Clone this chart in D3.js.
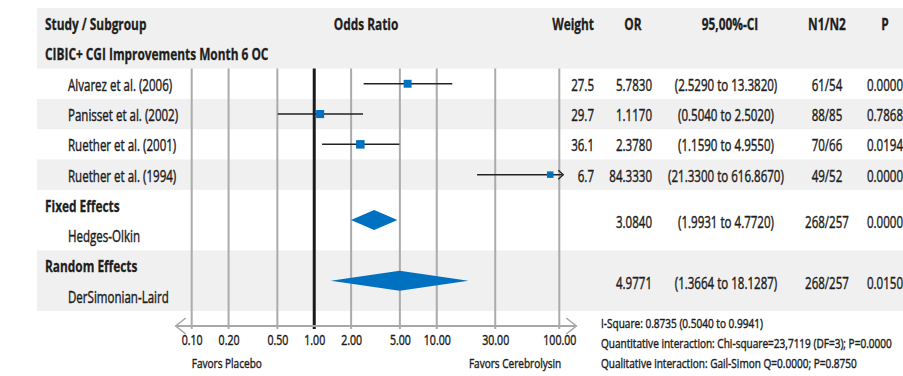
<!DOCTYPE html>
<html>
<head>
<meta charset="utf-8">
<script src="https://cdn.jsdelivr.net/npm/d3@7"></script>
<style>
  html, body { margin: 0; padding: 0; background: #fff; }
  svg { display: block; }
  text { font-family: "Open Sans", "Noto Sans", sans-serif; fill: #1e1e1e; stroke: #1e1e1e; stroke-width: 0.45px; }
  .b { font-weight: bold; stroke-width: 0.3px; }
</style>
</head>
<body>
<svg id="chart" width="903" height="376"></svg>
<script>
// Individual studies
const studyNames = ["Alvarez et al. (2006)", "Panisset et al. (2002)", "Ruether et al. (2001)", "Ruether et al. (1994)"];
const studyWeights = [27.5, 29.7, 36.1, 6.7];
const studyOR = [5.7830, 1.1170, 2.3780, 84.3330];
const studyLo = [2.5290, 0.5040, 1.1590, 21.3300];
const studyHi = [13.3820, 2.5020, 4.9550, 616.8670];
const studyN = ["61/54", "88/85", "70/66", "49/52"];
const studyP = ["0.0000", "0.7868", "0.0194", "0.0000"];

// Pooled estimates
const poolHeadings = ["Fixed Effects", "Random Effects"];
const poolMethods = ["Hedges-Olkin", "DerSimonian-Laird"];
const poolOR = [3.0840, 4.9771];
const poolLo = [1.9931, 1.3664];
const poolHi = [4.7720, 18.1287];
const poolN = ["268/257", "268/257"];
const poolP = ["0.0000", "0.0150"];

// Axis
const tickValues = [0.1, 0.2, 0.5, 1, 2, 5, 10, 30, 100];
const tickLabels = ["0.10", "0.20", "0.50", "1.00", "2.00", "5.00", "10.00", "30.00", "100.00"];

const headers = ["Study / Subgroup", "Odds Ratio", "Weight", "OR", "95,00%-CI", "N1/N2", "P"];
const subgroupTitle = "CIBIC+ CGI Improvements Month 6 OC";
const favorsLeft = "Favors Placebo";
const favorsRight = "Favors Cerebrolysin";
const footnotes = [
  "I-Square: 0.8735 (0.5040 to 0.9941)",
  "Quantitative interaction: Chi-square=23,7119 (DF=3); P=0.0000",
  "Qualitative interaction: Gail-Simon Q=0.0000; P=0.8750"
];

const fmtW = d3.format(".1f");
const fmt4 = d3.format(".4f");

const svg = d3.select("#chart");

// Row positions: 10 equal rows
const row = d3.scaleLinear().domain([0, 10]).range([8, 311]);
const rowMid = i => (row(i) + row(i + 1)) / 2;
const DY = "0.42em";

// Log scale for odds ratio
const x = d3.scaleLog().domain([0.1, 100]).range([191.7, 559.3]);
const axisY = 326;

// Column anchors
const col = { name: 68, head: 45, weight: 594, or: 652, orHead: 633, ci: 726, n: 827, p: 885 };
const bandLeft = 37, bandRight = 903;
const bandFill = "#f0f0f0";

// Type sizes and horizontal condensing factors
const tf = 16.5, sq = 0.70, sqBold = 0.72;
const tickF = 14.5, tickSq = 0.73;
const noteF = 13.5, noteSq = 0.745;

// Background bands
const bands = [[0, 2], [3, 4], [5, 6], [8, 10]];
svg.append("g").selectAll("rect").data(bands).join("rect")
  .attr("x", bandLeft).attr("width", bandRight - bandLeft)
  .attr("y", d => row(d[0])).attr("height", d => row(d[1]) - row(d[0]))
  .attr("fill", bandFill);

// Grid lines
const grid = svg.append("g");
grid.selectAll("line").data(tickValues.filter(v => v !== 1)).join("line")
  .attr("x1", d => x(d)).attr("x2", d => x(d))
  .attr("y1", row(2)).attr("y2", axisY + 3)
  .attr("stroke", "#ababab").attr("stroke-width", 2);
// Line of no effect
grid.append("line")
  .attr("x1", x(1)).attr("x2", x(1))
  .attr("y1", row(2)).attr("y2", axisY + 3)
  .attr("stroke", "#1a1a1a").attr("stroke-width", 3);

// Axis line with open arrowheads
const axisG = svg.append("g");
const axLeft = x.range()[0] - 16, axRight = x.range()[1] + 17;
axisG.append("line").attr("x1", axLeft).attr("x2", axRight)
  .attr("y1", axisY).attr("y2", axisY)
  .attr("stroke", "#a8a8a8").attr("stroke-width", 2);
axisG.append("path")
  .attr("d", `M${axLeft + 10},${axisY - 8}L${axLeft},${axisY}L${axLeft + 10},${axisY + 8}`)
  .attr("fill", "none").attr("stroke", "#a8a8a8").attr("stroke-width", 1.6);
axisG.append("path")
  .attr("d", `M${axRight - 10},${axisY - 8}L${axRight},${axisY}L${axRight - 10},${axisY + 8}`)
  .attr("fill", "none").attr("stroke", "#a8a8a8").attr("stroke-width", 1.6);

// Tick labels through d3 axis
const axis = d3.axisBottom(x).tickValues(tickValues)
  .tickFormat((d, i) => tickLabels[i]).tickSize(0).tickPadding(0);
const tickG = svg.append("g").attr("transform", `translate(0,${axisY + 14})`).call(axis);
tickG.select(".domain").remove();
tickG.attr("font-family", null).attr("font-size", null);
tickG.selectAll("text")
  .attr("dy", "0.35em").attr("y", 0)
  .attr("font-size", tickF).attr("fill", "#1e1e1e").attr("data-k", tickSq);

svg.append("text").attr("x", x(0.1)).attr("y", 363).attr("dy", "0.35em")
  .attr("font-size", noteF).attr("data-k", noteSq).text(favorsLeft);
svg.append("text").attr("x", x(100) + 2).attr("y", 363).attr("dy", "0.35em")
  .attr("text-anchor", "end").attr("font-size", noteF).attr("data-k", noteSq).text(favorsRight);

// Header
const hdr = svg.append("g").attr("font-size", tf);
const hy = rowMid(0);
const hText = (x0, y0, anchor, t) => hdr.append("text").attr("class", "b")
  .attr("x", x0).attr("y", y0).attr("dy", DY).attr("text-anchor", anchor).text(t);
hText(col.head, hy, "start", headers[0]);
hText(366, hy, "middle", headers[1]);
hText(col.weight, hy, "end", headers[2]);
hText(col.orHead, hy, "middle", headers[3]);
hText(730, hy, "middle", headers[4]);
hText(col.n, hy, "middle", headers[5]);
hText(col.p, hy, "middle", headers[6]);
hText(col.head, rowMid(1), "start", subgroupTitle);

// Study rows
const studies = studyNames.map((name, i) => ({
  name, w: studyWeights[i], or: studyOR[i], lo: studyLo[i], hi: studyHi[i],
  n: studyN[i], p: studyP[i], r: i + 2
}));
const size = d3.scaleLinear().domain(d3.extent(studyWeights)).range([6.5, 8.5]);
const [xmin, xmax] = x.domain();

const sg = svg.append("g").selectAll("g").data(studies).join("g");
const my = d => rowMid(d.r);

sg.append("line")
  .attr("x1", d => x(Math.max(d.lo, xmin)))
  .attr("x2", d => d.hi > xmax ? x(xmax) + 3 : x(d.hi))
  .attr("y1", my).attr("y2", my)
  .attr("stroke", "#222").attr("stroke-width", 1.5);
sg.filter(d => d.hi > xmax).append("path")
  .attr("d", d => `M${x(xmax) - 1},${my(d) - 4.5}L${x(xmax) + 4},${my(d)}L${x(xmax) - 1},${my(d) + 4.5}`)
  .attr("fill", "none").attr("stroke", "#222").attr("stroke-width", 1.3);
sg.append("rect")
  .attr("x", d => x(Math.min(d.or, xmax)) - size(d.w) / 2)
  .attr("y", d => my(d) - size(d.w) / 2)
  .attr("width", d => size(d.w)).attr("height", d => size(d.w))
  .attr("fill", "#0070c0");

const cell = (g, x0, anchor, fn, yfn) => g.append("text")
  .attr("x", x0).attr("y", yfn).attr("dy", DY).attr("font-size", tf)
  .attr("text-anchor", anchor).text(fn);
cell(sg, col.name, "start", d => d.name, my);
cell(sg, col.weight, "end", d => fmtW(d.w), my);
cell(sg, col.or, "end", d => fmt4(d.or), my);
cell(sg, col.ci, "middle", d => `(${fmt4(d.lo)} to ${fmt4(d.hi)})`, my);
cell(sg, col.n, "middle", d => d.n, my);
cell(sg, col.p, "middle", d => d.p, my);

// Pooled rows
const pools = poolHeadings.map((h, i) => ({
  h, m: poolMethods[i], or: poolOR[i], lo: poolLo[i], hi: poolHi[i],
  n: poolN[i], p: poolP[i], r: 6 + 2 * i
}));
const pg = svg.append("g").selectAll("g").data(pools).join("g");
cell(pg, col.head, "start", d => d.h, d => rowMid(d.r)).attr("class", "b");
cell(pg, col.name, "start", d => d.m, d => rowMid(d.r + 1));
const dh = 10;
pg.append("path")
  .attr("d", d => {
    const yc = row(d.r + 1);
    return `M${x(d.lo)},${yc}L${x(d.or)},${yc - dh}L${x(d.hi)},${yc}L${x(d.or)},${yc + dh}Z`;
  })
  .attr("fill", "#0070c0");
const vy = d => row(d.r + 1) + 1;
cell(pg, col.or, "end", d => fmt4(d.or), vy);
cell(pg, col.ci, "middle", d => `(${fmt4(d.lo)} to ${fmt4(d.hi)})`, vy);
cell(pg, col.n, "middle", d => d.n, vy);
cell(pg, col.p, "middle", d => d.p, vy);

// Heterogeneity notes
svg.append("g").selectAll("text").data(footnotes).join("text")
  .attr("x", 601).attr("y", (d, i) => 323 + i * 20).attr("dy", "0.35em")
  .attr("font-size", noteF).attr("data-k", noteSq).text(d => d);

// Condensed typesetting: squeeze every label horizontally about its anchor
svg.selectAll("text").each(function () {
  const given = this.getAttribute("data-k");
  const k = given ? +given : (this.classList.contains("b") ? sqBold : sq);
  const x0 = +(this.getAttribute("x") || 0);
  this.setAttribute("transform", `translate(${(x0 * (1 - k)).toFixed(2)},0) scale(${k},1)`);
});
</script>
</body>
</html>
